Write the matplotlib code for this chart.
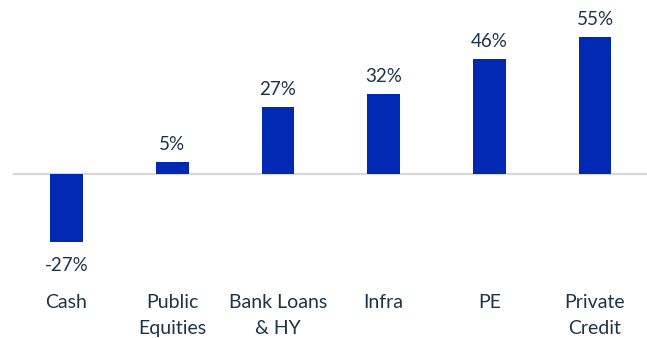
import matplotlib
matplotlib.use("Agg")
import matplotlib.pyplot as plt

categories = ["Cash", "Public\nEquities", "Bank Loans\n& HY", "Infra", "PE", "Private\nCredit"]
values = [-27, 5, 27, 32, 46, 55]
value_labels = ["-27%", "5%", "27%", "32%", "46%", "55%"]

BAR_COLOR = "#0229b3"
TEXT_COLOR = "#1c3447"
FONT = ["Lato", "DejaVu Sans"]

fig = plt.figure(figsize=(6.47, 3.38), dpi=100)
ax = fig.add_axes([0, 0, 1, 1])

x = list(range(len(categories)))
bars = ax.bar(x, values, width=0.31, color=BAR_COLOR, zorder=2)

ax.set_xlim(-0.629, 5.492)
ax.set_ylim(-65.6, 69.6)

# zero baseline
ax.axhline(0, xmin=0.022, xmax=1.0, color="#d9d9d9", lw=1.6, zorder=1)

for xi, v, lab in zip(x, values, value_labels):
    offset = 8.5 if v >= 0 else -21
    ax.annotate(lab, (xi, v), xytext=(0, offset), textcoords="offset points",
                ha="center", va="baseline", fontsize=13.5,
                color=TEXT_COLOR, family=FONT)

for xi, cat in zip(x, categories):
    ax.text(xi, -48.2, cat, ha="center", va="top", fontsize=14,
            color=TEXT_COLOR, family=FONT, linespacing=1.6)

ax.axis("off")
fig.savefig("out.png", dpi=100)
